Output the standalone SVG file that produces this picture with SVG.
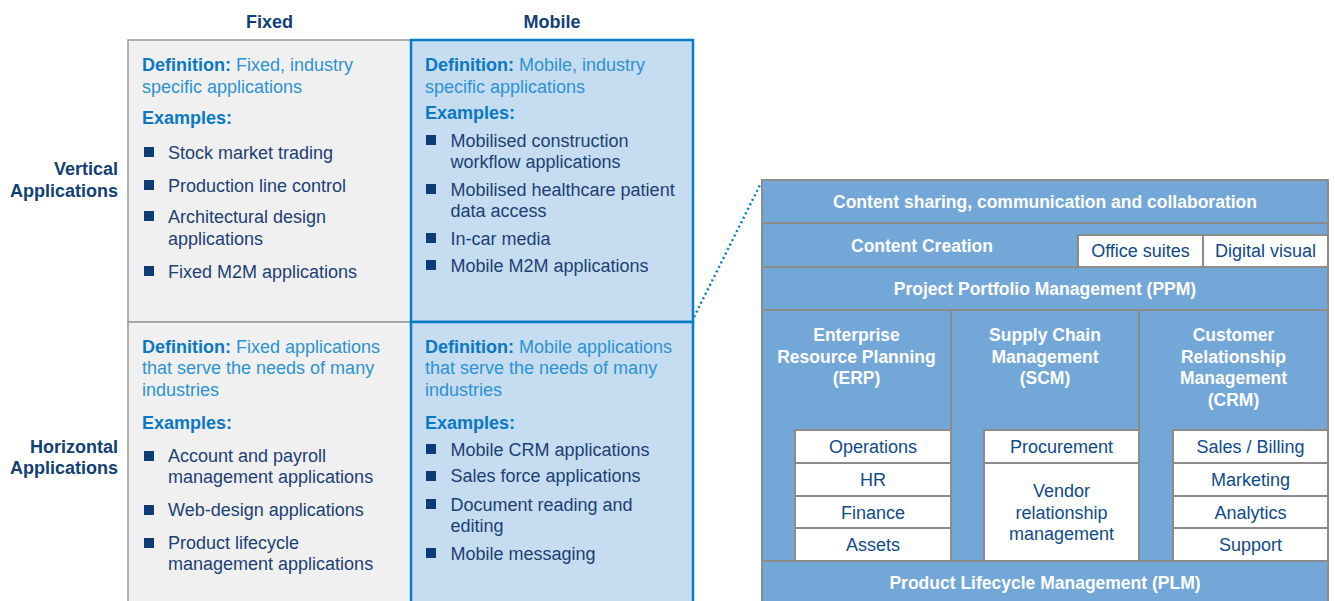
<svg xmlns="http://www.w3.org/2000/svg" width="1335" height="601" viewBox="0 0 1335 601">
<style>
  text { font-family: "Liberation Sans", Arial, sans-serif; }
  .hdr { font-size: 18px; font-weight: bold; fill: #123f76; }
  .defb { font-size: 18px; font-weight: bold; fill: #0a78c2; }
  .defr { font-size: 18px; font-weight: normal; fill: #2b93d2; }
  .item { font-size: 18px; fill: #1c3f74; }
  .bul { fill: #0d3b78; }
  .fixcell { fill: #f0f0f0; stroke: #999999; stroke-width: 1.5; }
  .mobcell { fill: #c6dcf0; stroke: #0a7cc5; stroke-width: 2.5; }
  .blk { fill: #72a7d8; stroke: #8c8c8c; stroke-width: 2; }
  .sub { fill: #ffffff; stroke: #8c8c8c; stroke-width: 2; }
  .wt { font-size: 17.5px; font-weight: bold; fill: #ffffff; text-anchor: middle; }
  .st { font-size: 18px; fill: #0f4a8a; text-anchor: middle; }
  .conn { fill: none; stroke: #0a7cc5; stroke-width: 2.5; stroke-dasharray: 2 3; }
</style>

<g id="col-fixed-header"><text class="hdr" x="269.5" y="28" text-anchor="middle">Fixed</text></g>
<g id="col-mobile-header"><text class="hdr" x="552" y="28" text-anchor="middle">Mobile</text></g>
<g id="row-vertical-header">
  <text class="hdr" x="118" y="175" text-anchor="end">Vertical</text>
  <text class="hdr" x="118" y="197" text-anchor="end">Applications</text>
</g>
<g id="row-horizontal-header">
  <text class="hdr" x="118" y="453" text-anchor="end">Horizontal</text>
  <text class="hdr" x="118" y="474" text-anchor="end">Applications</text>
</g>

<g id="cell-fixed-vertical">
  <rect class="fixcell" x="128" y="40" width="283" height="282"/>
  <text x="142" y="71"><tspan class="defb">Definition:</tspan><tspan class="defr"> Fixed, industry</tspan></text>
  <text class="defr" x="142" y="93">specific applications</text>
  <text class="defb" x="142" y="124">Examples:</text>
  <rect class="bul" x="144" y="147" width="10" height="10"/>
  <text class="item" x="168" y="159">Stock market trading</text>
  <rect class="bul" x="144" y="180" width="10" height="10"/>
  <text class="item" x="168" y="192">Production line control</text>
  <rect class="bul" x="144" y="211" width="10" height="10"/>
  <text class="item" x="168" y="223">Architectural design</text>
  <text class="item" x="168" y="245">applications</text>
  <rect class="bul" x="144" y="266" width="10" height="10"/>
  <text class="item" x="168" y="278">Fixed M2M applications</text>
</g>

<g id="cell-fixed-horizontal">
  <rect class="fixcell" x="128" y="322" width="283" height="292"/>
  <text x="142" y="353"><tspan class="defb">Definition:</tspan><tspan class="defr"> Fixed applications</tspan></text>
  <text class="defr" x="142" y="374">that serve the needs of many</text>
  <text class="defr" x="142" y="396">industries</text>
  <text class="defb" x="142" y="429">Examples:</text>
  <rect class="bul" x="144" y="451" width="10" height="10"/>
  <text class="item" x="168" y="462">Account and payroll</text>
  <text class="item" x="168" y="483">management applications</text>
  <rect class="bul" x="144" y="505" width="10" height="10"/>
  <text class="item" x="168" y="516">Web-design applications</text>
  <rect class="bul" x="144" y="538" width="10" height="10"/>
  <text class="item" x="168" y="549">Product lifecycle</text>
  <text class="item" x="168" y="570">management applications</text>
</g>

<g id="cell-mobile-vertical">
  <rect class="mobcell" x="411" y="40" width="282" height="282"/>
  <text x="425" y="71"><tspan class="defb">Definition:</tspan><tspan class="defr"> Mobile, industry</tspan></text>
  <text class="defr" x="425" y="93">specific applications</text>
  <text class="defb" x="425" y="119">Examples:</text>
  <rect class="bul" x="426" y="135" width="10" height="10"/>
  <text class="item" x="450.5" y="147">Mobilised construction</text>
  <text class="item" x="450.5" y="168">workflow applications</text>
  <rect class="bul" x="426" y="184" width="10" height="10"/>
  <text class="item" x="450.5" y="196">Mobilised healthcare patient</text>
  <text class="item" x="450.5" y="217">data access</text>
  <rect class="bul" x="426" y="233" width="10" height="10"/>
  <text class="item" x="450.5" y="245">In-car media</text>
  <rect class="bul" x="426" y="260" width="10" height="10"/>
  <text class="item" x="450.5" y="272">Mobile M2M applications</text>
</g>

<g id="cell-mobile-horizontal">
  <rect class="mobcell" x="411" y="322" width="282" height="292"/>
  <text x="425" y="353"><tspan class="defb">Definition:</tspan><tspan class="defr"> Mobile applications</tspan></text>
  <text class="defr" x="425" y="374">that serve the needs of many</text>
  <text class="defr" x="425" y="396">industries</text>
  <text class="defb" x="425" y="429">Examples:</text>
  <rect class="bul" x="426" y="444" width="10" height="10"/>
  <text class="item" x="450.5" y="456">Mobile CRM applications</text>
  <rect class="bul" x="426" y="471" width="10" height="10"/>
  <text class="item" x="450.5" y="482">Sales force applications</text>
  <rect class="bul" x="426" y="499" width="10" height="10"/>
  <text class="item" x="450.5" y="511">Document reading and</text>
  <text class="item" x="450.5" y="532">editing</text>
  <rect class="bul" x="426" y="548" width="10" height="10"/>
  <text class="item" x="450.5" y="560">Mobile messaging</text>
</g>

<g id="connectors">
  <line class="conn" x1="694" y1="317" x2="761" y2="183"/>
</g>

<g id="blk-content-sharing">
  <rect class="blk" x="762" y="180" width="566" height="43"/>
  <text class="wt" x="1045" y="207.5">Content sharing, communication and collaboration</text>
</g>
<g id="blk-content-creation">
  <rect class="blk" x="762" y="223" width="566" height="44"/>
  <text class="wt" x="922" y="252">Content Creation</text>
</g>
<g id="sub-office-suites">
  <rect class="sub" x="1078" y="235" width="125" height="32"/>
  <text class="st" x="1140.5" y="257">Office suites</text>
</g>
<g id="sub-digital-visual">
  <rect class="sub" x="1203" y="235" width="125" height="32"/>
  <text class="st" x="1265.5" y="257">Digital visual</text>
</g>
<g id="blk-ppm">
  <rect class="blk" x="762" y="267" width="566" height="43"/>
  <text class="wt" x="1045" y="295">Project Portfolio Management (PPM)</text>
</g>
<g id="blk-erp">
  <rect class="blk" x="762" y="310" width="189" height="251"/>
  <text class="wt" x="856.5" y="341">Enterprise</text>
  <text class="wt" x="856.5" y="363">Resource Planning</text>
  <text class="wt" x="856.5" y="384">(ERP)</text>
</g>
<g id="blk-scm">
  <rect class="blk" x="951" y="310" width="188" height="251"/>
  <text class="wt" x="1045" y="341">Supply Chain</text>
  <text class="wt" x="1045" y="363">Management</text>
  <text class="wt" x="1045" y="384">(SCM)</text>
</g>
<g id="blk-crm">
  <rect class="blk" x="1139" y="310" width="189" height="251"/>
  <text class="wt" x="1233.5" y="341">Customer</text>
  <text class="wt" x="1233.5" y="363">Relationship</text>
  <text class="wt" x="1233.5" y="384">Management</text>
  <text class="wt" x="1233.5" y="406">(CRM)</text>
</g>
<g id="sub-operations"><rect class="sub" x="795" y="430" width="156" height="33"/><text class="st" x="873" y="453">Operations</text></g>
<g id="sub-hr"><rect class="sub" x="795" y="463" width="156" height="33"/><text class="st" x="873" y="486">HR</text></g>
<g id="sub-finance"><rect class="sub" x="795" y="496" width="156" height="32"/><text class="st" x="873" y="518.5">Finance</text></g>
<g id="sub-assets"><rect class="sub" x="795" y="528" width="156" height="33"/><text class="st" x="873" y="551">Assets</text></g>
<g id="sub-procurement"><rect class="sub" x="984" y="430" width="155" height="33"/><text class="st" x="1061.5" y="453">Procurement</text></g>
<g id="sub-vendor">
  <rect class="sub" x="984" y="463" width="155" height="98"/>
  <text class="st" x="1061.5" y="497">Vendor</text>
  <text class="st" x="1061.5" y="518.5">relationship</text>
  <text class="st" x="1061.5" y="539.5">management</text>
</g>
<g id="sub-sales"><rect class="sub" x="1173" y="430" width="155" height="33"/><text class="st" x="1250.5" y="453">Sales / Billing</text></g>
<g id="sub-marketing"><rect class="sub" x="1173" y="463" width="155" height="33"/><text class="st" x="1250.5" y="486">Marketing</text></g>
<g id="sub-analytics"><rect class="sub" x="1173" y="496" width="155" height="32"/><text class="st" x="1250.5" y="518.5">Analytics</text></g>
<g id="sub-support"><rect class="sub" x="1173" y="528" width="155" height="33"/><text class="st" x="1250.5" y="551">Support</text></g>
<g id="blk-plm">
  <rect class="blk" x="762" y="561" width="566" height="52"/>
  <text class="wt" x="1045" y="588.5">Product Lifecycle Management (PLM)</text>
</g>
</svg>
